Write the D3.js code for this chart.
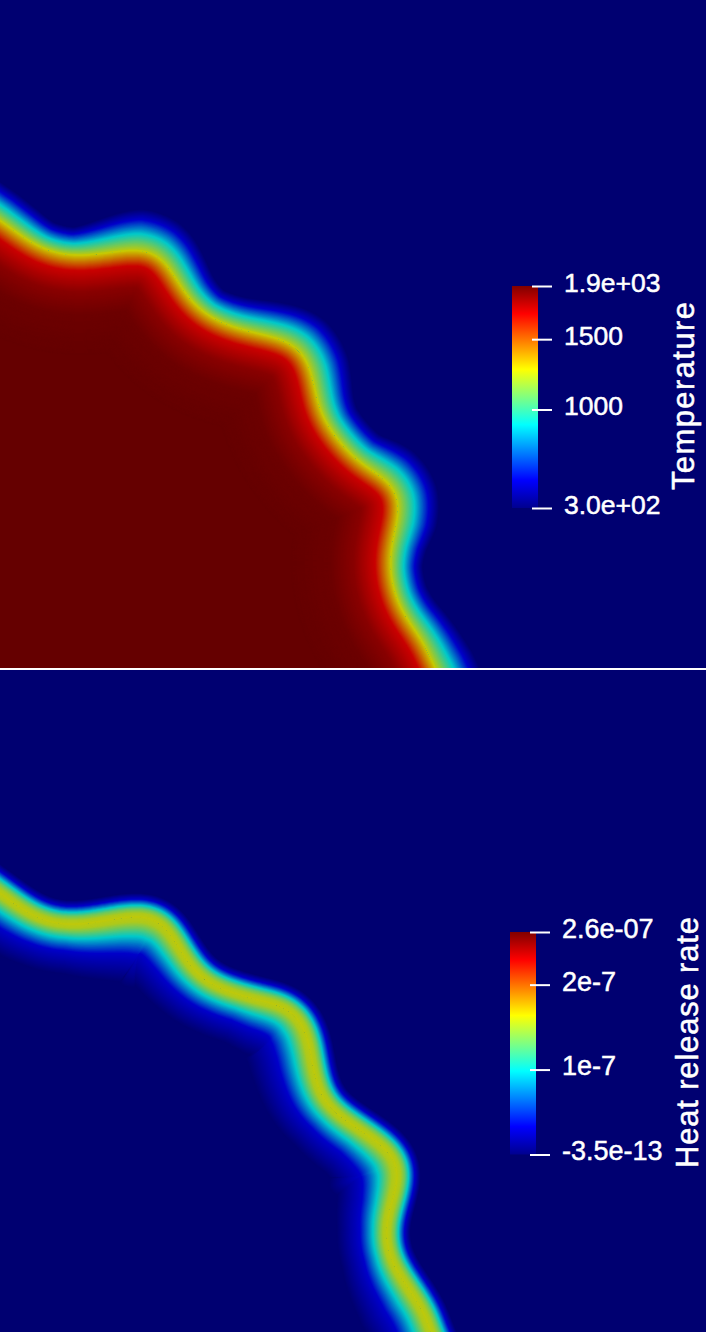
<!DOCTYPE html>
<html>
<head>
<meta charset="utf-8">
<style>
html, body { margin: 0; padding: 0; background: #fff; overflow: hidden; }
svg { display: block; }
text { font-family: "Liberation Sans", Arial, sans-serif; fill: #fff; }
</style>
<script src="https://cdn.jsdelivr.net/npm/d3@7"></script>
</head>
<body>
<div id="chart"></div>
<script>
// flame front, in mm from the panel's lower left corner
// (first and last points sit just outside the panel)
const tempFrontX = [-0.3, 0, 0.2, 0.43, 0.73, 1.07, 1.4, 1.6, 1.73, 1.87, 2.07, 2.4, 2.77, 3, 3.12, 3.17, 3.27, 3.57, 3.87, 4, 3.98, 3.92, 3.89, 3.95, 4.07, 4.23, 4.35, 4.45];
const tempFrontY = [4.68, 4.48, 4.33, 4.18, 4.11, 4.15, 4.2, 4.13, 3.95, 3.71, 3.51, 3.38, 3.31, 3.21, 2.98, 2.65, 2.41, 2.05, 1.9, 1.71, 1.48, 1.25, 1.01, 0.71, 0.48, 0.28, 0, -0.2];
// how much thicker the cold side of the temperature front is at each point
const tempColdSpread = [1.15, 1.15, 1.1, 1, 1, 1.25, 1.5, 1.45, 1.3, 1.15, 1.05, 1.15, 1.3, 1.45, 1.45, 1.3, 1.2, 1.2, 1.45, 1.5, 1.45, 1.25, 1.15, 1.15, 1.2, 1.3, 1.45, 1.45];

const hrrFrontX = [-0.3, 0, 0.2, 0.4, 0.67, 1, 1.33, 1.57, 1.7, 1.83, 1.97, 2.17, 2.4, 2.57, 2.83, 3, 3.09, 3.12, 3.18, 3.3, 3.57, 3.83, 3.98, 3.98, 3.9, 3.85, 3.88, 3.97, 4.12, 4.27, 4.3, 4.4];
const hrrFrontY = [4.6, 4.39, 4.24, 4.12, 4.06, 4.1, 4.17, 4.14, 4, 3.77, 3.57, 3.44, 3.37, 3.32, 3.27, 3.14, 2.92, 2.69, 2.42, 2.22, 2.04, 1.87, 1.7, 1.49, 1.25, 1.02, 0.79, 0.6, 0.39, 0.15, 0, -0.2];
// same for the hot side of the heat release band
const hrrHotSpread = [1.1, 1.1, 1.05, 1, 1, 1.2, 1.4, 1.45, 1.3, 1.15, 1.05, 1, 1, 1.1, 1.2, 1.3, 1.3, 1.25, 1.15, 1.05, 1.1, 1.3, 1.4, 1.3, 1.1, 1, 1, 1.1, 1.2, 1.2, 1.2, 1.2];

// normal profile of the field: distance from the front (mm, + towards the cold side) to colour value
const tempProfileDist = [-1.0, -0.6, -0.37, -0.16, 0, 0.115, 0.21, 0.28];
const tempProfileValue = [1, 0.99, 0.955, 0.875, 0.62, 0.375, 0.125, 0];
const hrrProfileDist = [-0.5, -0.27, -0.14, -0.08, -0.04, 0, 0.04, 0.08, 0.12, 0.18, 0.24];
const hrrProfileValue = [0, 0.125, 0.375, 0.51, 0.59, 0.61, 0.59, 0.51, 0.375, 0.125, 0];

// jet colour map
const jetStops = [0, 0.125, 0.375, 0.5, 0.625, 0.875, 1];
const jetColors = ["#00008f", "#0000ff", "#00ffff", "#80ff80", "#ffff00", "#ff0000", "#800000"];

const tempTicks = [300, 1000, 1500, 1878];
const tempTickLabels = ["3.0e+02", "1000", "1500", "1.9e+03"];
const hrrTicks = [-3.5e-13, 1e-7, 2e-7, 2.62e-7];
const hrrTickLabels = ["-3.5e-13", "1e-7", "2e-7", "2.6e-07"];

const width = 706;
const height = 1341;
const fieldShade = 0.79; // the field is rendered a bit darker than the colour bar

const svg = d3.select("#chart").append("svg")
    .attr("width", width)
    .attr("height", height);
const defs = svg.append("defs");

const jet = d3.scaleLinear().domain(jetStops).range(jetColors).interpolate(d3.interpolateRgb);
const shaded = function (v) {
    const c = d3.rgb(jet(v));
    return d3.rgb(c.r * fieldShade, c.g * fieldShade, c.b * fieldShade).formatHex();
};

function drawField(id, top, bottom, frontX, frontY, profileDist, profileValue, coldSpread, hotSpread) {
    const x = d3.scaleLinear().domain([0, 7.06]).range([0, width]);
    const y = d3.scaleLinear().domain([0, (bottom - top) / 100]).range([bottom, top]);
    const profile = d3.scaleLinear().domain(profileDist).range(profileValue).clamp(true);
    const pts = frontX.map(function (d, i) { return [x(d), y(frontY[i])]; });
    const spine = d3.line().curve(d3.curveBasis)(pts);
    const outline = d3.line();
    const pxPerMm = x(1) - x(0);

    // spread along the front, indexed by the fraction of front length
    let run = 0;
    const along = pts.map(function (p, i) {
        if (i > 0) run += Math.hypot(p[0] - pts[i - 1][0], p[1] - pts[i - 1][1]);
        return run;
    }).map(function (d) { return d / run; });
    const coldAt = coldSpread ? d3.scaleLinear().domain(along).range(coldSpread) : function () { return 1; };
    const hotAt = hotSpread ? d3.scaleLinear().domain(along).range(hotSpread) : function () { return 1; };

    // sample the smoothed front; a short running mean takes the corners off
    const probe = defs.append("path").attr("d", spine).node();
    const len = probe.getTotalLength();
    const raw = d3.range(0, len, 2.5).concat([len]).map(function (s) {
        const p = probe.getPointAtLength(s);
        return { s: s, x: p.x, y: p.y };
    });
    const rounded = raw.map(function (p, i) {
        const win = raw.slice(Math.max(0, i - 5), Math.min(raw.length, i + 6));
        return { s: p.s, x: d3.mean(win, function (d) { return d.x; }), y: d3.mean(win, function (d) { return d.y; }) };
    });
    const samples = rounded.map(function (p, i) {
        const a = rounded[Math.max(0, i - 3)];
        const b = rounded[Math.min(rounded.length - 1, i + 3)];
        const n = Math.hypot(b.x - a.x, b.y - a.y);
        return { x: p.x, y: p.y, nx: (b.y - a.y) / n, ny: -(b.x - a.x) / n, cold: coldAt(p.s / len), hot: hotAt(p.s / len) };
    });

    // front moved by dist px, + to the cold side
    function offsetCurve(dist) {
        return samples.map(function (p) {
            const k = dist * (dist > 0 ? p.cold : p.hot);
            return [p.x + p.nx * k, p.y + p.ny * k];
        });
    }
    function hotRegion(curve) {
        const a = curve[0];
        return outline(curve.concat([[curve[curve.length - 1][0], bottom + 200], [-300, bottom + 200], [-300, a[1]]])) + "Z";
    }
    function coldRegion(curve) {
        const a = curve[0];
        return outline(curve.concat([[curve[curve.length - 1][0], bottom + 200], [width + 300, bottom + 200], [width + 300, top - 300], [-300, top - 300], [-300, a[1]]])) + "Z";
    }

    const base = offsetCurve(0);
    defs.append("clipPath").attr("id", id + "-panel").append("rect")
        .attr("x", 0).attr("y", top).attr("width", width).attr("height", bottom - top);
    defs.append("clipPath").attr("id", id + "-hot").append("path").attr("d", hotRegion(base));
    defs.append("clipPath").attr("id", id + "-cold").append("path").attr("d", coldRegion(base));

    const panel = svg.append("g").attr("clip-path", "url(#" + id + "-panel)");

    // each side: far colour first, then layers coming towards the front, one per half pixel
    [["hot", -1, coldRegion], ["cold", 1, hotRegion]].forEach(function (side) {
        const sign = side[1];
        const g = panel.append("g").attr("clip-path", "url(#" + id + "-" + side[0] + ")");
        const maxDist = Math.abs(sign < 0 ? profileDist[0] : profileDist[profileDist.length - 1]) * pxPerMm;
        g.append("rect")
            .attr("x", 0).attr("y", top).attr("width", width).attr("height", bottom - top)
            .attr("fill", shaded(profile(sign * maxDist / pxPerMm)));
        g.selectAll("path").data(d3.range(maxDist, 0, -0.5)).join("path")
            .attr("d", function (d) { return side[2](offsetCurve(sign * d)); })
            .attr("fill", function (d) { return shaded(profile(sign * d / pxPerMm)); });
    });

    // closes the hairline between the two clipped sides
    panel.append("path")
        .attr("d", outline(base))
        .attr("fill", "none")
        .attr("stroke-width", 1.2)
        .attr("stroke", shaded(profile(0)));
}

function drawColorBar(id, barX, barTop, barBottom, domain, ticks, labels, labelSize, title, titleX, titleY, titleLen) {
    const scale = d3.scaleLinear().domain(domain).range([barBottom, barTop]);
    const grad = defs.append("linearGradient").attr("id", id + "-grad")
        .attr("x1", 0).attr("y1", 1).attr("x2", 0).attr("y2", 0);
    grad.selectAll("stop").data(jetStops).join("stop")
        .attr("offset", function (d) { return d; })
        .attr("stop-color", function (d) { return jet(d); });

    svg.append("rect")
        .attr("x", barX).attr("y", barTop)
        .attr("width", 26).attr("height", barBottom - barTop)
        .attr("fill", "url(#" + id + "-grad)");

    const axis = d3.axisRight(scale)
        .tickValues(ticks)
        .tickSize(20)
        .tickPadding(12)
        .tickFormat(function (d, i) { return labels[i]; });
    const g = svg.append("g")
        .attr("transform", "translate(" + (barX + 20) + ",0)")
        .call(axis);
    g.select(".domain").remove();
    g.selectAll(".tick line").attr("stroke", "#fff").attr("stroke-width", 2);
    g.selectAll(".tick text")
        .attr("dy", "0.2em")
        .style("font-size", labelSize + "px")
        .style("font-family", "\"Liberation Sans\", Arial, sans-serif")
        .attr("fill", "#fff")
        .attr("stroke", "#fff")
        .attr("stroke-width", 0.5);

    svg.append("text")
        .attr("transform", "translate(" + titleX + "," + titleY + ") rotate(-90)")
        .attr("textLength", titleLen)
        .attr("stroke", "#fff")
        .attr("stroke-width", 0.5)
        .style("font-size", "31px")
        .text(title);
}

svg.append("rect").attr("width", width).attr("height", 1333).attr("fill", "#fff");

drawField("temp", 0, 668, tempFrontX, tempFrontY, tempProfileDist, tempProfileValue, tempColdSpread, null);
drawField("hrr", 670, 1332, hrrFrontX, hrrFrontY, hrrProfileDist, hrrProfileValue, null, hrrHotSpread);

drawColorBar("tempbar", 512, 286, 508, [300, 1878], tempTicks, tempTickLabels, 26.5, "Temperature", 694, 490, 188);
drawColorBar("hrrbar", 510, 932, 1154.5, [-3.5e-13, 2.62e-7], hrrTicks, hrrTickLabels, 27, "Heat release rate", 698, 1168, 251);
</script>
</body>
</html>
